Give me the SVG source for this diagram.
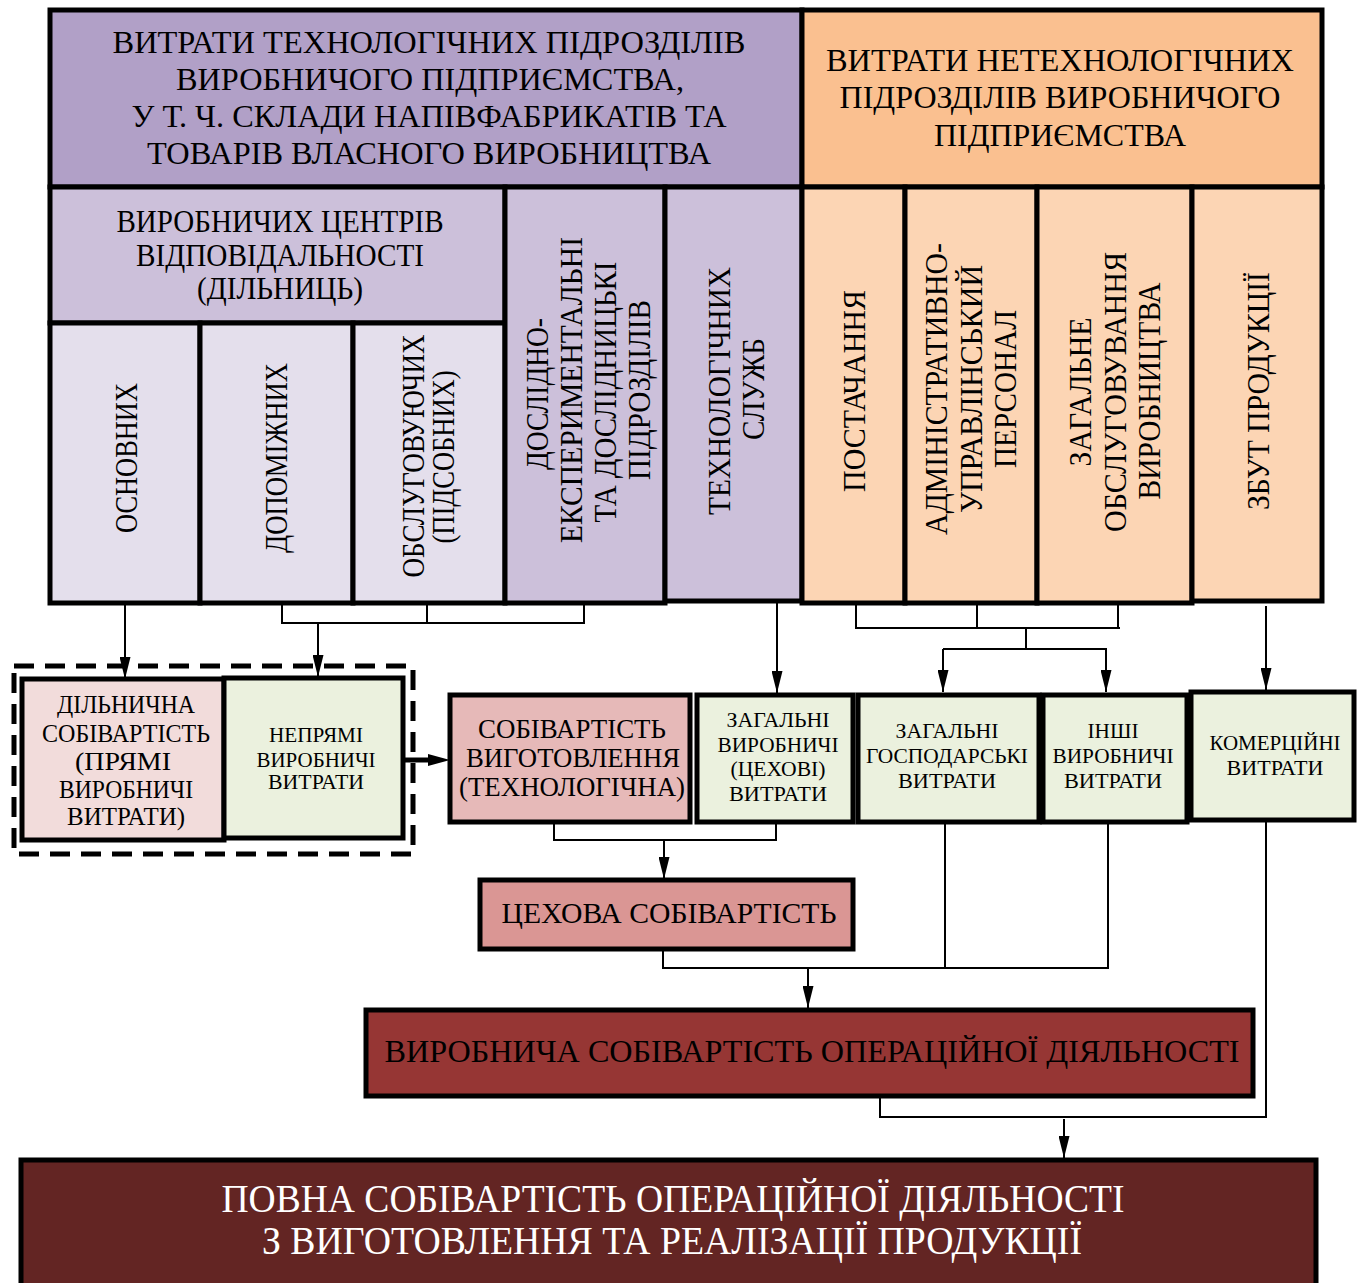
<svg xmlns="http://www.w3.org/2000/svg" width="1362" height="1283" viewBox="0 0 1362 1283">
  <style>
    text { font-family: "Liberation Serif", "Times New Roman", serif; fill: #000; text-anchor: middle; }
    .box { stroke: #000; stroke-width: 5; }
    .f32 { font-size: 32px; }
    .f31 { font-size: 31px; }
    .f29 { font-size: 29px; }
    .f27 { font-size: 27px; }
    .f26 { font-size: 26px; }
    .f21 { font-size: 21px; }
    .f40 { font-size: 40px; fill: #fff; }
    .conn { fill: none; stroke: #000; stroke-width: 2; }
    .c-tech { fill: #B1A0C7; }
    .c-tech2 { fill: #CCC0DA; }
    .c-tech3 { fill: #E4DFEC; }
    .c-non { fill: #FAC090; }
    .c-non2 { fill: #FCD5B4; }
    .c-pink { fill: #F2DCDB; }
    .c-green { fill: #EBF1DE; }
    .c-rose { fill: #E6B9B8; }
    .c-shop { fill: #DA9694; }
    .c-prod { fill: #963634; }
    .c-full { fill: #632523; }
  </style>
  <defs>
    <marker id="ah" markerUnits="userSpaceOnUse" markerWidth="22" markerHeight="11" viewBox="0 -5.5 22 11" refX="22" refY="0" orient="auto">
      <path d="M0,-5.5 L22,0 L0,5.5 Z" fill="#000"/>
    </marker>
  </defs>

  <rect width="1362" height="1283" fill="#fff"/>

  <!-- upper block: cost centres -->
  <g id="hdr-tech">
    <rect class="box c-tech" x="50" y="10" width="752" height="177"/>
    <text class="f32" x="429" y="53" textLength="633" lengthAdjust="spacingAndGlyphs">ВИТРАТИ ТЕХНОЛОГІЧНИХ ПІДРОЗДІЛІВ</text>
    <text class="f32" x="430" y="90" textLength="508" lengthAdjust="spacingAndGlyphs">ВИРОБНИЧОГО ПІДПРИЄМСТВА,</text>
    <text class="f32" x="429" y="127" textLength="595" lengthAdjust="spacingAndGlyphs">У Т. Ч. СКЛАДИ НАПІВФАБРИКАТІВ ТА</text>
    <text class="f32" x="429" y="164" textLength="564" lengthAdjust="spacingAndGlyphs">ТОВАРІВ ВЛАСНОГО ВИРОБНИЦТВА</text>
  </g>
  <g id="hdr-nontech">
    <rect class="box c-non" x="802" y="10" width="520" height="177"/>
    <text class="f32" x="1060" y="71" textLength="468" lengthAdjust="spacingAndGlyphs">ВИТРАТИ НЕТЕХНОЛОГІЧНИХ</text>
    <text class="f32" x="1060" y="108" textLength="441" lengthAdjust="spacingAndGlyphs">ПІДРОЗДІЛІВ ВИРОБНИЧОГО</text>
    <text class="f32" x="1060" y="146" textLength="252" lengthAdjust="spacingAndGlyphs">ПІДПРИЄМСТВА</text>
  </g>
  <g id="centres">
    <rect class="box c-tech2" x="50" y="187" width="455" height="136"/>
    <text class="f31" x="280" y="232" textLength="327" lengthAdjust="spacingAndGlyphs">ВИРОБНИЧИХ ЦЕНТРІВ</text>
    <text class="f31" x="280" y="266" textLength="288" lengthAdjust="spacingAndGlyphs">ВІДПОВІДАЛЬНОСТІ</text>
    <text class="f31" x="280" y="299" textLength="166" lengthAdjust="spacingAndGlyphs">(ДІЛЬНИЦЬ)</text>
  </g>
  <g id="main-units">
    <rect class="box c-tech3" x="50" y="323" width="150" height="280"/>
    <text class="f31" transform="translate(137 458) rotate(-90)" textLength="150" lengthAdjust="spacingAndGlyphs">ОСНОВНИХ</text>
  </g>
  <g id="aux-units">
    <rect class="box c-tech3" x="200" y="323" width="153" height="280"/>
    <text class="f31" transform="translate(287 458) rotate(-90)" textLength="190" lengthAdjust="spacingAndGlyphs">ДОПОМІЖНИХ</text>
  </g>
  <g id="service-units">
    <rect class="box c-tech3" x="353" y="323" width="152" height="280"/>
    <text class="f31" transform="translate(424 456) rotate(-90)" textLength="243" lengthAdjust="spacingAndGlyphs">ОБСЛУГОВУЮЧИХ</text>
    <text class="f31" transform="translate(454 457) rotate(-90)" textLength="173" lengthAdjust="spacingAndGlyphs">(ПІДСОБНИХ)</text>
  </g>
  <g id="research">
    <rect class="box c-tech2" x="505" y="187" width="160" height="416"/>
    <text class="f31" transform="translate(548 394) rotate(-90)" textLength="152" lengthAdjust="spacingAndGlyphs">ДОСЛІДНО-</text>
    <text class="f31" transform="translate(582 390) rotate(-90)" textLength="306" lengthAdjust="spacingAndGlyphs">ЕКСПЕРИМЕНТАЛЬНІ</text>
    <text class="f31" transform="translate(616 392) rotate(-90)" textLength="261" lengthAdjust="spacingAndGlyphs">ТА ДОСЛІДНИЦЬКІ</text>
    <text class="f31" transform="translate(650 390) rotate(-90)" textLength="180" lengthAdjust="spacingAndGlyphs">ПІДРОЗДІЛІВ</text>
  </g>
  <g id="tech-services">
    <rect class="box c-tech2" x="665" y="187" width="137" height="414"/>
    <text class="f31" transform="translate(730 391) rotate(-90)" textLength="248" lengthAdjust="spacingAndGlyphs">ТЕХНОЛОГІЧНИХ</text>
    <text class="f31" transform="translate(764 389) rotate(-90)" textLength="102" lengthAdjust="spacingAndGlyphs">СЛУЖБ</text>
  </g>
  <g id="supply">
    <rect class="box c-non2" x="802" y="187" width="103" height="416"/>
    <text class="f31" transform="translate(865 391) rotate(-90)" textLength="202" lengthAdjust="spacingAndGlyphs">ПОСТАЧАННЯ</text>
  </g>
  <g id="admin-staff">
    <rect class="box c-non2" x="905" y="187" width="132" height="416"/>
    <text class="f31" transform="translate(947 389) rotate(-90)" textLength="292" lengthAdjust="spacingAndGlyphs">АДМІНІСТРАТИВНО-</text>
    <text class="f31" transform="translate(982 389) rotate(-90)" textLength="248" lengthAdjust="spacingAndGlyphs">УПРАВЛІНСЬКИЙ</text>
    <text class="f31" transform="translate(1016 389) rotate(-90)" textLength="158" lengthAdjust="spacingAndGlyphs">ПЕРСОНАЛ</text>
  </g>
  <g id="general-service">
    <rect class="box c-non2" x="1037" y="187" width="155" height="416"/>
    <text class="f31" transform="translate(1091 392) rotate(-90)" textLength="149" lengthAdjust="spacingAndGlyphs">ЗАГАЛЬНЕ</text>
    <text class="f31" transform="translate(1126 392) rotate(-90)" textLength="280" lengthAdjust="spacingAndGlyphs">ОБСЛУГОВУВАННЯ</text>
    <text class="f31" transform="translate(1160 391) rotate(-90)" textLength="217" lengthAdjust="spacingAndGlyphs">ВИРОБНИЦТВА</text>
  </g>
  <g id="sales">
    <rect class="box c-non2" x="1192" y="187" width="130" height="414"/>
    <text class="f31" transform="translate(1269 391) rotate(-90)" textLength="238" lengthAdjust="spacingAndGlyphs">ЗБУТ ПРОДУКЦІЇ</text>
  </g>

  <!-- cost items -->
  <g id="section-cost">
    <rect x="14" y="666" width="399" height="188" fill="none" stroke="#000" stroke-width="5" stroke-dasharray="20 11"/>
  </g>
  <g id="direct-cost">
    <rect class="box c-pink" x="22" y="679" width="202" height="161"/>
    <text class="f26" x="126" y="713" textLength="138" lengthAdjust="spacingAndGlyphs">ДІЛЬНИЧНА</text>
    <text class="f26" x="126" y="742" textLength="168" lengthAdjust="spacingAndGlyphs">СОБІВАРТІСТЬ</text>
    <text class="f26" x="123" y="770" textLength="96" lengthAdjust="spacingAndGlyphs">(ПРЯМІ</text>
    <text class="f26" x="126" y="798" textLength="134" lengthAdjust="spacingAndGlyphs">ВИРОБНИЧІ</text>
    <text class="f26" x="126" y="825" textLength="118" lengthAdjust="spacingAndGlyphs">ВИТРАТИ)</text>
  </g>
  <g id="indirect-cost">
    <rect class="box c-green" x="224" y="678" width="179" height="160"/>
    <text class="f21" x="316" y="742" textLength="94" lengthAdjust="spacingAndGlyphs">НЕПРЯМІ</text>
    <text class="f21" x="316" y="767" textLength="119" lengthAdjust="spacingAndGlyphs">ВИРОБНИЧІ</text>
    <text class="f21" x="316" y="789" textLength="96" lengthAdjust="spacingAndGlyphs">ВИТРАТИ</text>
  </g>
  <g id="mfg-cost">
    <rect class="box c-rose" x="450" y="695" width="240" height="127"/>
    <text class="f27" x="572" y="738" textLength="188" lengthAdjust="spacingAndGlyphs">СОБІВАРТІСТЬ</text>
    <text class="f27" x="573" y="767" textLength="214" lengthAdjust="spacingAndGlyphs">ВИГОТОВЛЕННЯ</text>
    <text class="f27" x="572" y="796" textLength="226" lengthAdjust="spacingAndGlyphs">(ТЕХНОЛОГІЧНА)</text>
  </g>
  <g id="shop-overhead">
    <rect class="box c-green" x="697" y="695" width="156" height="127"/>
    <text class="f21" x="778" y="727" textLength="103" lengthAdjust="spacingAndGlyphs">ЗАГАЛЬНІ</text>
    <text class="f21" x="778" y="752" textLength="121" lengthAdjust="spacingAndGlyphs">ВИРОБНИЧІ</text>
    <text class="f21" x="778" y="776" textLength="95" lengthAdjust="spacingAndGlyphs">(ЦЕХОВІ)</text>
    <text class="f21" x="778" y="801" textLength="98" lengthAdjust="spacingAndGlyphs">ВИТРАТИ</text>
  </g>
  <g id="admin-cost">
    <rect class="box c-green" x="858" y="695" width="181" height="127"/>
    <text class="f21" x="947" y="738" textLength="103" lengthAdjust="spacingAndGlyphs">ЗАГАЛЬНІ</text>
    <text class="f21" x="947" y="763" textLength="162" lengthAdjust="spacingAndGlyphs">ГОСПОДАРСЬКІ</text>
    <text class="f21" x="947" y="788" textLength="98" lengthAdjust="spacingAndGlyphs">ВИТРАТИ</text>
  </g>
  <g id="other-cost">
    <rect class="box c-green" x="1043" y="695" width="144" height="127"/>
    <text class="f21" x="1113" y="738" textLength="51" lengthAdjust="spacingAndGlyphs">ІНШІ</text>
    <text class="f21" x="1113" y="763" textLength="121" lengthAdjust="spacingAndGlyphs">ВИРОБНИЧІ</text>
    <text class="f21" x="1113" y="788" textLength="98" lengthAdjust="spacingAndGlyphs">ВИТРАТИ</text>
  </g>
  <g id="commercial-cost">
    <rect class="box c-green" x="1191" y="692" width="163" height="128"/>
    <text class="f21" x="1275" y="750" textLength="131" lengthAdjust="spacingAndGlyphs">КОМЕРЦІЙНІ</text>
    <text class="f21" x="1275" y="775" textLength="97" lengthAdjust="spacingAndGlyphs">ВИТРАТИ</text>
  </g>
  <g id="shop-cost">
    <rect class="box c-shop" x="480" y="880" width="373" height="69"/>
    <text class="f29" x="669" y="923" textLength="335" lengthAdjust="spacingAndGlyphs">ЦЕХОВА СОБІВАРТІСТЬ</text>
  </g>
  <g id="production-cost">
    <rect class="box c-prod" x="366" y="1010" width="887" height="86"/>
    <text class="f32" x="812" y="1062" textLength="855" lengthAdjust="spacingAndGlyphs">ВИРОБНИЧА СОБІВАРТІСТЬ ОПЕРАЦІЙНОЇ ДІЯЛЬНОСТІ</text>
  </g>
  <g id="full-cost">
    <rect class="box c-full" x="21" y="1160" width="1295" height="130"/>
    <text class="f40" x="673" y="1212" textLength="903" lengthAdjust="spacingAndGlyphs">ПОВНА СОБІВАРТІСТЬ ОПЕРАЦІЙНОЇ ДІЯЛЬНОСТІ</text>
    <text class="f40" x="672" y="1254" textLength="820" lengthAdjust="spacingAndGlyphs">З ВИГОТОВЛЕННЯ ТА РЕАЛІЗАЦІЇ ПРОДУКЦІЇ</text>
  </g>

  <!-- connectors -->
  <g id="connectors">
    <path class="conn" d="M125,605 V679" marker-end="url(#ah)"/>
    <path class="conn" d="M282,605 V623 M427,605 V623 M584,605 V623 M281,623 H585"/>
    <path class="conn" d="M318,623 V677" marker-end="url(#ah)"/>
    <path class="conn" d="M777,603 V693" marker-end="url(#ah)"/>
    <path class="conn" d="M856,605 V628 M977,605 V628 M1118,605 V628 M855,628 H1120 M1026,628 V649 M943,649 H1107"/>
    <path class="conn" d="M943,649 V692" marker-end="url(#ah)"/>
    <path class="conn" d="M1106,649 V692" marker-end="url(#ah)"/>
    <path class="conn" d="M1266,606 V690" marker-end="url(#ah)"/>
    <path d="M404,760 H430" stroke="#000" stroke-width="5"/>
    <path d="M428,754 L450,760 L428,766 Z" fill="#000"/>
    <path class="conn" d="M554,823 V840 M776,823 V840 M553,840 H777"/>
    <path class="conn" d="M664,840 V879" marker-end="url(#ah)"/>
    <path class="conn" d="M663,950 V968 M945,823 V968 M1108,823 V968 M662,968 H1109"/>
    <path class="conn" d="M808,968 V1008" marker-end="url(#ah)"/>
    <path class="conn" d="M880,1097 V1117 M1266,821 V1117 M879,1117 H1267"/>
    <path class="conn" d="M1064,1119 V1158" marker-end="url(#ah)"/>
  </g>
</svg>
